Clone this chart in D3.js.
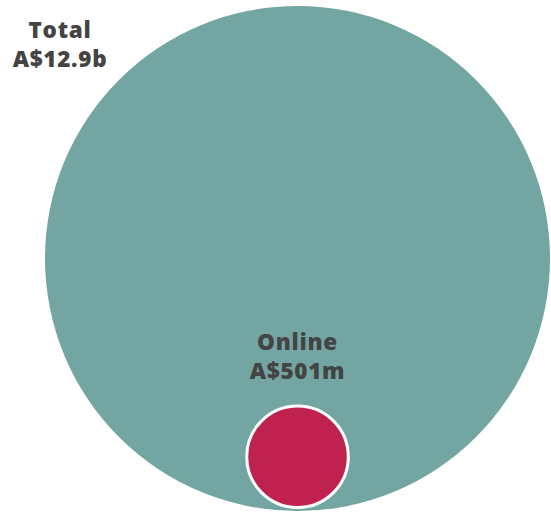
<!DOCTYPE html>
<html><head><meta charset="utf-8">
<script src="https://cdn.jsdelivr.net/npm/d3@7"></script>
<style>html,body{margin:0;padding:0;background:#fff;}svg{display:block;}</style>
</head><body>
<svg id="chart" width="551" height="514"></svg>
<script>
const categories = ["Total", "Online"];
const values = [12900, 501];            // A$ millions
const valueLabels = ["A$12.9b", "A$501m"];
const colors = ["#73a6a2", "#c0224f"];

const svg = d3.select("#chart");
const cx = 297.5, cy = 258.5;
const r = d3.scaleSqrt().domain([0, d3.max(values)]).range([0, 252.5]);

const R = r(values[0]);
svg.append("circle").attr("cx", cx).attr("cy", cy).attr("r", R).attr("fill", colors[0]);

const rs = r(values[1]) + 1;
const scy = cy + R - rs - 3.5;
svg.append("circle").attr("cx", cx).attr("cy", scy).attr("r", rs)
  .attr("fill", colors[1]).attr("stroke", "#fff").attr("stroke-width", 3);

function label(x, y, lines) {
  const t = svg.append("text").attr("text-anchor", "middle")
    .attr("font-family", "'Open Sans', sans-serif").attr("font-weight", 800)
    .attr("font-size", 22.5).attr("letter-spacing", 0.7).attr("fill", "#444");
  lines.forEach((l, i) => t.append("tspan").attr("x", x).attr("y", y + i * 29).text(l));
}
label(60, 38, [categories[0], valueLabels[0]]);
label(cx, 350, [categories[1], valueLabels[1]]);
</script>
</body></html>
